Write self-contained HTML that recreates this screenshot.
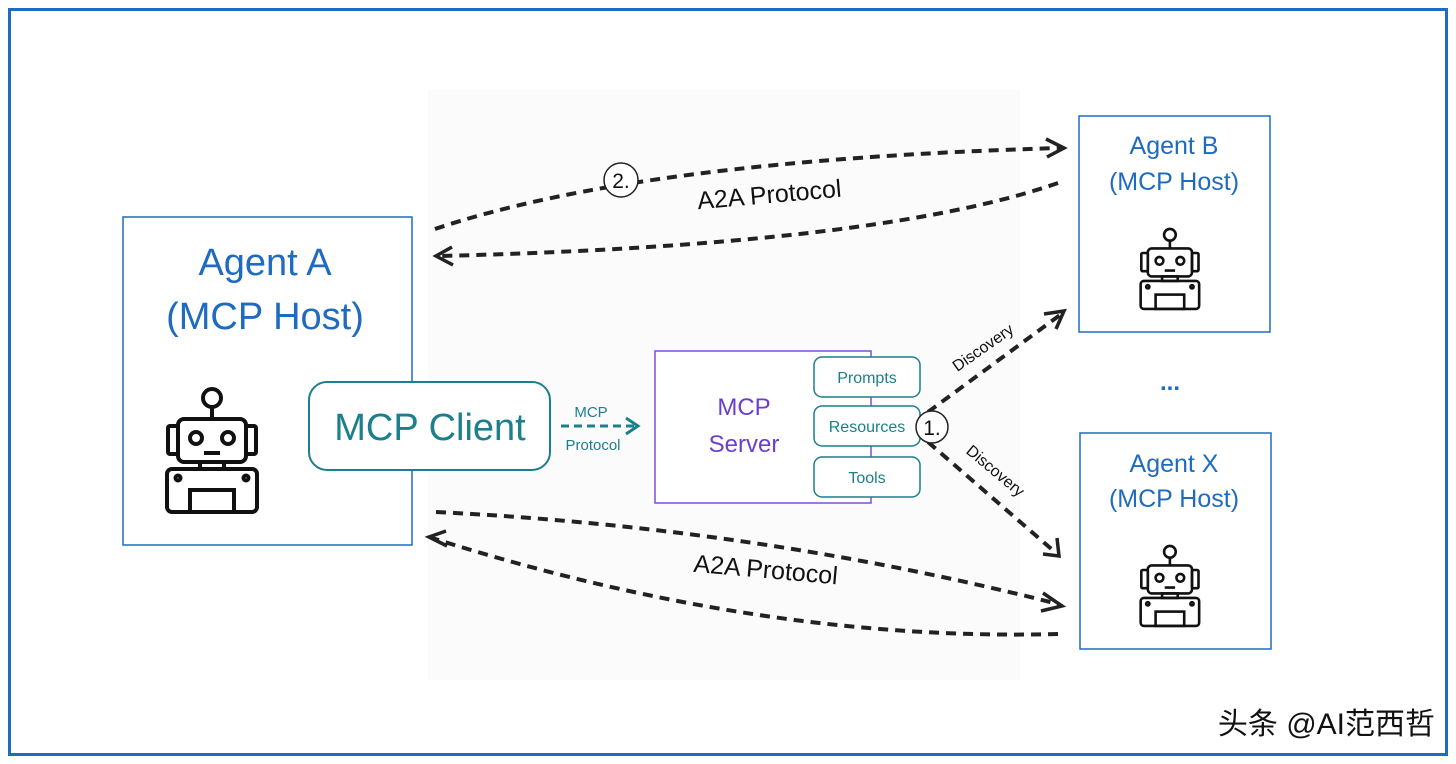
<!DOCTYPE html>
<html><head><meta charset="utf-8"><style>
html,body{margin:0;padding:0;background:#fff;}
svg{display:block;}
</style></head><body>
<svg width="1456" height="764" viewBox="0 0 1456 764" xmlns="http://www.w3.org/2000/svg">
<defs>
<g id="robot" fill="none" stroke="#111" stroke-width="4">
  <circle cx="46" cy="12" r="9"/>
  <line x1="46" y1="21" x2="46" y2="33"/>
  <rect x="12" y="33" width="68" height="43" rx="6"/>
  <rect x="2" y="40" width="10" height="28" rx="2"/>
  <rect x="80" y="40" width="10" height="28" rx="2"/>
  <circle cx="30" cy="52" r="6"/>
  <circle cx="62" cy="52" r="6"/>
  <line x1="38" y1="67" x2="54" y2="67"/>
  <rect x="34" y="76" width="24" height="7"/>
  <rect x="1" y="83" width="90" height="43" rx="5"/>
  <circle cx="12" cy="92" r="2.5"/>
  <circle cx="80" cy="92" r="2.5"/>
  <rect x="24" y="104" width="44" height="22"/>
</g>
</defs>
<rect x="428" y="90" width="592" height="590" fill="#fbfbfc"/>
<rect x="9.5" y="9.5" width="1437" height="745" fill="none" stroke="#1f6bbf" stroke-width="3"/>

<!-- Agent A -->
<rect x="123" y="217" width="289" height="328" fill="#fff" stroke="#1f6bbf" stroke-width="1.5"/>
<text x="265" y="275" text-anchor="middle" font-family="Liberation Sans, sans-serif" font-size="38" fill="#1f6bbf">Agent A</text>
<text x="265" y="329" text-anchor="middle" font-family="Liberation Sans, sans-serif" font-size="38" fill="#1f6bbf">(MCP Host)</text>
<use href="#robot" transform="translate(166,386)"/>

<!-- MCP Client -->
<rect x="309" y="382" width="241" height="88" rx="18" fill="#fff" stroke="#1b7f8c" stroke-width="2"/>
<text x="430" y="440" text-anchor="middle" font-family="Liberation Sans, sans-serif" font-size="38" fill="#1b7f8c">MCP Client</text>

<!-- MCP protocol arrow -->
<line x1="561" y1="426" x2="636" y2="426" stroke="#1b7f8c" stroke-width="3" stroke-dasharray="8,5"/>
<polyline points="626,418 638,426 626,434" fill="none" stroke="#1b7f8c" stroke-width="3"/>
<text x="591" y="417" text-anchor="middle" font-family="Liberation Sans, sans-serif" font-size="15" fill="#1b7f8c">MCP</text>
<text x="593" y="450" text-anchor="middle" font-family="Liberation Sans, sans-serif" font-size="15" fill="#1b7f8c">Protocol</text>

<!-- MCP Server -->
<rect x="655" y="351" width="216" height="152" fill="#fff" stroke="#7b4fd8" stroke-width="1.5"/>
<text x="744" y="415" text-anchor="middle" font-family="Liberation Sans, sans-serif" font-size="24" fill="#6a3fd0">MCP</text>
<text x="744" y="452" text-anchor="middle" font-family="Liberation Sans, sans-serif" font-size="24" fill="#6a3fd0">Server</text>
<g font-family="Liberation Sans, sans-serif" font-size="16" fill="#1b7f8c" text-anchor="middle">
<rect x="814" y="357" width="106" height="40" rx="8" fill="#fff" stroke="#1b7f8c" stroke-width="1.5"/>
<text x="867" y="383">Prompts</text>
<rect x="814" y="406" width="106" height="40" rx="8" fill="#fff" stroke="#1b7f8c" stroke-width="1.5"/>
<text x="867" y="432">Resources</text>
<rect x="814" y="457" width="106" height="40" rx="8" fill="#fff" stroke="#1b7f8c" stroke-width="1.5"/>
<text x="867" y="483">Tools</text>
</g>

<!-- Agent B -->
<rect x="1079" y="116" width="191" height="216" fill="#fff" stroke="#1f6bbf" stroke-width="1.5"/>
<text x="1174" y="154" text-anchor="middle" font-family="Liberation Sans, sans-serif" font-size="25" fill="#1f6bbf">Agent B</text>
<text x="1174" y="190" text-anchor="middle" font-family="Liberation Sans, sans-serif" font-size="25" fill="#1f6bbf">(MCP Host)</text>
<use href="#robot" transform="translate(1140,227) scale(0.65)"/>

<text x="1170" y="390" text-anchor="middle" font-family="Liberation Sans, sans-serif" font-size="24" font-weight="bold" fill="#1f6bbf">...</text>

<!-- Agent X -->
<rect x="1080" y="433" width="191" height="216" fill="#fff" stroke="#1f6bbf" stroke-width="1.5"/>
<text x="1174" y="472" text-anchor="middle" font-family="Liberation Sans, sans-serif" font-size="25" fill="#1f6bbf">Agent X</text>
<text x="1174" y="507" text-anchor="middle" font-family="Liberation Sans, sans-serif" font-size="25" fill="#1f6bbf">(MCP Host)</text>
<use href="#robot" transform="translate(1140,544) scale(0.65)"/>

<!-- A2A arrows -->
<g fill="none" stroke="#222" stroke-width="4" stroke-dasharray="10,7">
<path d="M435,229 Q640,160 1060,148"/>
<path d="M1058,183 Q880,245 440,256"/>
<path d="M436,512 Q760,528 1058,604"/>
<path d="M1058,634 Q760,642 432,538"/>
<path d="M928,412 L1060,315"/>
<path d="M928,442 L1056,553"/>
</g>
<g fill="none" stroke="#222" stroke-width="3.5">
<polyline points="1046,139 1064,148 1047,157"/>
<polyline points="452,247 436,256 453,265"/>
<polyline points="1043,593 1062,606 1041,611"/>
<polyline points="446,531 429,537 447,546"/>
<polyline points="1044,314 1064,311 1056,329"/>
<polyline points="1043,554 1059,556 1057,538"/>
</g>
<circle cx="621" cy="180" r="17" fill="#fff" stroke="#222" stroke-width="1.5"/>
<text x="621" y="188" text-anchor="middle" font-family="Liberation Sans, sans-serif" font-size="21" fill="#111">2.</text>
<circle cx="932" cy="427" r="16" fill="#fff" stroke="#222" stroke-width="1.5"/>
<text x="932" y="435" text-anchor="middle" font-family="Liberation Sans, sans-serif" font-size="21" fill="#111">1.</text>
<text transform="translate(770,203) rotate(-5)" text-anchor="middle" font-family="Liberation Sans, sans-serif" font-size="25" fill="#111">A2A Protocol</text>
<text transform="translate(765,578) rotate(5)" text-anchor="middle" font-family="Liberation Sans, sans-serif" font-size="25" fill="#111">A2A Protocol</text>
<text transform="translate(986,352) rotate(-35)" text-anchor="middle" font-family="Liberation Sans, sans-serif" font-size="16" fill="#111">Discovery</text>
<text transform="translate(992,475) rotate(40)" text-anchor="middle" font-family="Liberation Sans, sans-serif" font-size="16" fill="#111">Discovery</text>

<text x="1435" y="734" text-anchor="end" font-family="Liberation Sans, 'Noto Sans CJK SC', sans-serif" font-size="30" fill="#111">头条 @AI范西哲</text>
</svg>
</body></html>
